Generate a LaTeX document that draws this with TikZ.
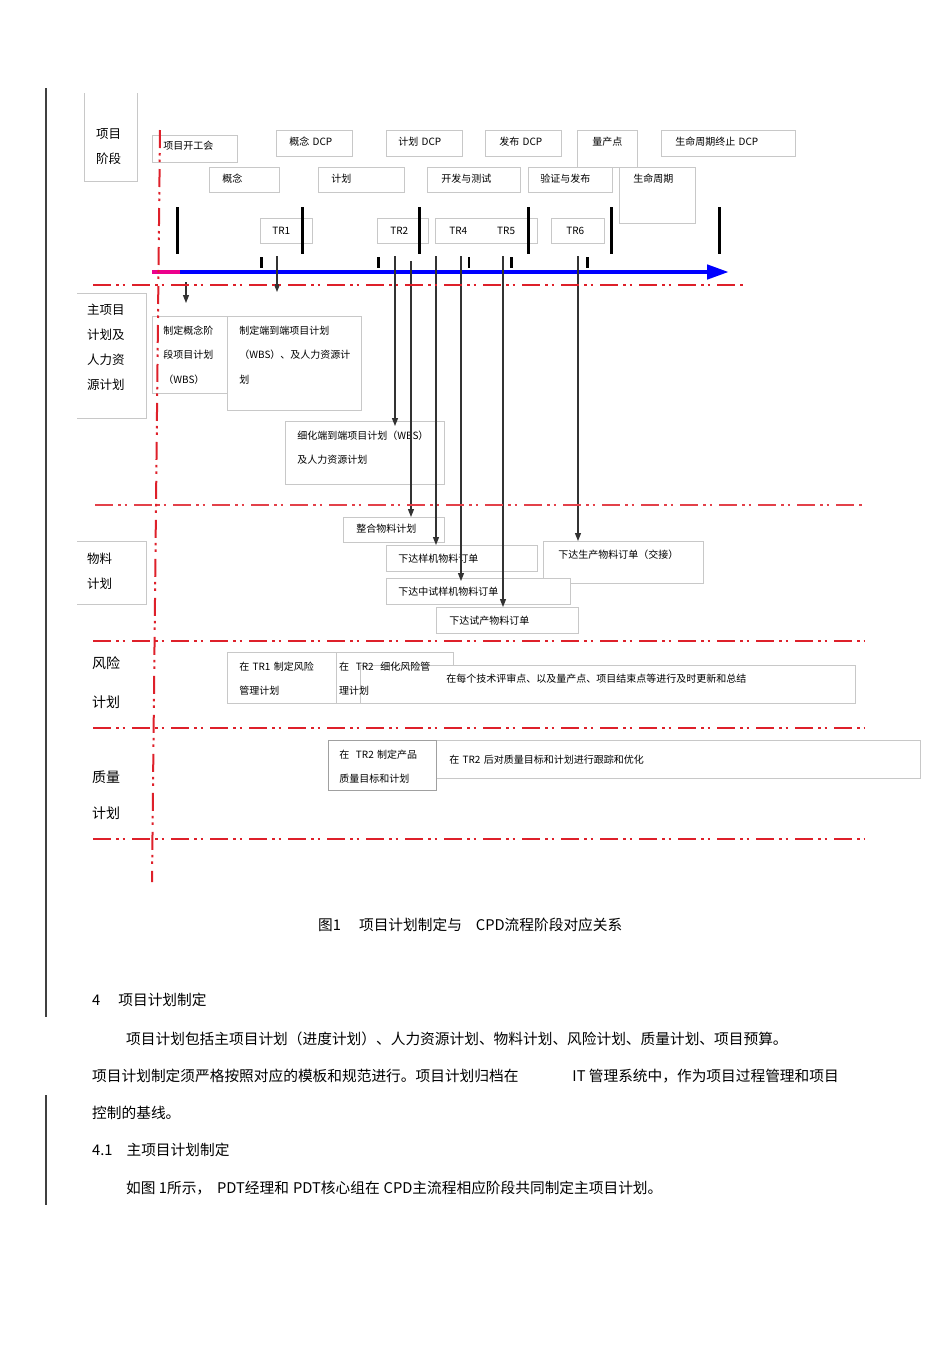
\documentclass[tikz,border=0pt]{standalone}
\usepackage{fontspec}
\setmainfont{Noto Sans CJK SC}
\usetikzlibrary{arrows.meta}

\definecolor{planred}{RGB}{222,32,42}
\definecolor{boxgray}{RGB}{200,200,200}
\newcommand{\dfont}{\fontsize{10}{24.5}\selectfont}
\newcommand{\bfont}{\fontsize{14.7}{18}\selectfont}

\begin{document}
\begin{tikzpicture}[x=1pt, y=-1pt,
    bx/.style n args={4}{anchor=north west, inner ysep=0pt, inner xsep=#4,
        text width={#1-2*#4}, text height=#2, text depth={#3-#2}, align=left, font=\dfont},
    frame/.style={draw=boxgray, line width=0.6pt, fill=white},
    edge/.style={draw=boxgray, line width=0.6pt},
    redline/.style={draw=planred, line width=2.2pt,
        dash pattern=on 18pt off 5pt on 2.5pt off 4pt on 2.5pt off 7pt},
    bar/.style={line width=3pt, black},
    arr/.style={draw=black!80, line width=1.2pt, -{Triangle[length=8pt,width=6pt]}},
    body/.style={font=\bfont, anchor=base west, inner sep=0pt}
]
\useasboundingbox (0,0) rectangle (950,1345);

% page margin lines
\draw[black!75, line width=1.2pt] (46,88) -- (46,1017);
\draw[black!75, line width=1.2pt] (46,1095) -- (46,1205);

% row labels
\node[bx={53}{45}{88}{12}, font=\fontsize{12.5}{25.5}\selectfont] (phaselbl) at (84,93) {项目\\阶段};
\draw[edge] (phaselbl.north west) -- (phaselbl.south west) -- (phaselbl.south east) -- (phaselbl.north east);
\node[bx={69}{21}{125}{10}, font=\fontsize{12.5}{25}\selectfont] (mainlbl) at (77,293) {主项目\\计划及\\人力资\\源计划};
\draw[edge] (mainlbl.north west) -- (mainlbl.north east) -- (mainlbl.south east) -- (mainlbl.south west);
\node[bx={69}{22.5}{63}{10}, font=\fontsize{12.5}{24.5}\selectfont] (matlbl) at (77,541) {物料\\计划};
\draw[edge] (matlbl.north west) -- (matlbl.north east) -- (matlbl.south east) -- (matlbl.south west);
\node[bx={60}{27}{80}{15}, font=\fontsize{14}{39}\selectfont] (risklbl) at (77,641) {风险\\计划};
\node[bx={60}{26}{90}{15}, font=\fontsize{14}{36}\selectfont] (qualbl) at (77,756) {质量\\计划};

% decision points
\node[bx={60}{15}{37}{15}, frame] (mass) at (577,130) {量产点};
\node[bx={85}{14}{27}{11}, frame] (kickoff) at (152,135) {项目开工会};
\node[bx={76}{15}{26}{13}, frame] (cdcp) at (276,130) {概念 DCP};
\node[bx={76}{15}{26}{12}, frame] (pdcp) at (386,130) {计划 DCP};
\node[bx={76}{15}{26}{14}, frame] (rdcp) at (485,130) {发布 DCP};
\node[bx={134}{15}{26}{14}, frame] (eol) at (661,130) {生命周期终止 DCP};

% stages
\node[bx={70}{15}{25}{13}, frame] (concept) at (209,167) {概念};
\node[bx={86}{15}{25}{13}, frame] (plan) at (318,167) {计划};
\node[bx={93}{15}{25}{14}, frame] (dev) at (427,167) {开发与测试};
\node[bx={84}{15}{25}{12}, frame] (verify) at (528,167) {验证与发布};
\node[bx={76}{15}{56}{14}, frame] (life) at (619,167) {生命周期};

% technical reviews
\node[bx={52}{16}{25}{12}, frame] (tr1) at (260,218) {TR1};
\node[bx={51}{16}{25}{13}, frame] (tr2) at (377,218) {TR2};
\node[bx={102}{16}{25}{14}, frame] (tr45) at (435,218) {TR4\hspace{30pt}TR5};
\node[bx={53}{16}{25}{15}, frame] (tr6) at (551,218) {TR6};

% milestone bars
\draw[bar] (177,207) -- (177,254);
\draw[bar] (302,207) -- (302,254);
\draw[bar] (419,207) -- (419,254);
\draw[bar] (528,207) -- (528,254);
\draw[bar] (611,207) -- (611,254);
\draw[bar] (719,207) -- (719,254);
\draw[bar] (261,257) -- (261,268);
\draw[bar] (378,257) -- (378,268);
\draw[bar, line width=1.5pt] (469,257) -- (469,268);
\draw[bar] (511,257) -- (511,268);
\draw[bar] (587,257) -- (587,268);

% time axis
\coordinate (t0) at (152,272);
\coordinate (t1) at (180,272);
\coordinate (tend) at (729,272);
\draw[magenta, line width=4.5pt] (t0) -- (t1);
\draw[blue, line width=4.5pt, -{Triangle[length=22pt,width=14pt]}] (t1) -- (tend);

% main plan
\node[bx={134}{18}{94}{12}, frame] (e2e) at (227,316) {制定端到端项目计划\\（WBS）、及人力资源计\\划};
\node[bx={75}{18}{77}{11}, frame] (cpt) at (152,316) {制定概念阶\\段项目计划\\（WBS）};
\node[bx={159}{17.8}{63}{12}, frame] (fine) at (285,421) {细化端到端项目计划（WBS）\\及人力资源计划};

% material plan
\node[bx={101}{14.8}{25}{13}, frame] (merge) at (343,517) {整合物料计划};
\node[bx={160}{16.8}{42}{15}, frame] (prod) at (543,541) {下达生产物料订单（交接）};
\node[bx={151}{16.8}{26}{12}, frame] (proto) at (386,545) {下达样机物料订单};
\node[bx={184}{16.8}{26}{12}, frame] (pilot) at (386,578) {下达中试样机物料订单};
\node[bx={142}{16.8}{26}{13}, frame] (trial) at (436,607) {下达试产物料订单};

% risk plan
\node[bx={110}{17.8}{51}{12}, frame] (risk1) at (227,652) {在 TR1 制定风险\\管理计划};
\node[bx={117}{17.8}{51}{3}, frame] (risk2) at (336,652) {};
\node[bx={495}{16.8}{38}{86}, frame] (risk3) at (360,665) {在每个技术评审点、以及量产点、项目结束点等进行及时更新和总结};
\node[bx={117}{17.8}{51}{3}] (risk2txt) at (336,652) {在 \ TR2 \ 细化风险管\\理计划};

% quality plan
\node[bx={484}{22.8}{38}{13}, frame] (qual2) at (436,740) {在 TR2 后对质量目标和计划进行跟踪和优化};
\node[bx={108}{17.8}{50}{11}, frame, draw=boxgray!80!black] (qual1) at (328,740) {在 \ TR2 制定产品\\质量目标和计划};

% arrows from the axis
\coordinate (a1) at (186,282);
\coordinate (a2) at (277,256);
\coordinate (a3) at (395,256);
\coordinate (a4) at (411,261);
\coordinate (a5) at (436,256);
\coordinate (a6) at (461,256);
\coordinate (a7) at (503,256);
\coordinate (a8) at (578,256);
\draw[arr, shorten >=13pt] (a1) -- (a1 |- cpt.north);
\draw[arr, shorten >=24pt] (a2) -- (a2 |- e2e.north);
\draw[arr, shorten >=-5pt] (a3) -- (a3 |- fine.north);
\draw[arr] (a4) -- (a4 |- merge.north);
\draw[arr] (a5) -- (a5 |- proto.north);
\draw[arr, shorten >=-3pt] (a6) -- (a6 |- pilot.north);
\draw[arr] (a7) -- (a7 |- trial.north);
\draw[arr] (a8) -- (a8 |- prod.north);

% red division lines
\draw[redline] (93,285) -- (745,285);
\draw[redline, line width=1.2pt, draw=planred!85] (95,505) -- (862,505);
\draw[redline] (93,641) -- (865,641);
\draw[redline] (93,728) -- (865,728);
\draw[redline] (93,839) -- (865,839);
\draw[redline, line width=2pt] (160,130) -- (152,882);

% caption and text below
\node[body] (cap) at (318,930.6) {图1\hspace{18pt}项目计划制定与\hspace{14pt}CPD流程阶段对应关系};
\node[body] (sec4) at (92,1005.6) {4\hspace{18pt}项目计划制定};
\node[body] (par1) at (126,1044.6) {项目计划包括主项目计划（进度计划）、人力资源计划、物料计划、风险计划、质量计划、项目预算。};
\node[body] (par2) at (92,1081.6) {项目计划制定须严格按照对应的模板和规范进行。项目计划归档在\hspace{54pt}IT 管理系统中，作为项目过程管理和项目};
\node[body] (par3) at (92,1118.6) {控制的基线。};
\node[body] (sec41) at (92,1155.6) {4.1\hspace{14pt}主项目计划制定};
\node[body] (par4) at (126,1193.6) {如图 1所示，\hspace{6pt}PDT经理和\hspace{4pt}PDT核心组在\hspace{4pt}CPD主流程相应阶段共同制定主项目计划。};
\end{tikzpicture}
\end{document}
